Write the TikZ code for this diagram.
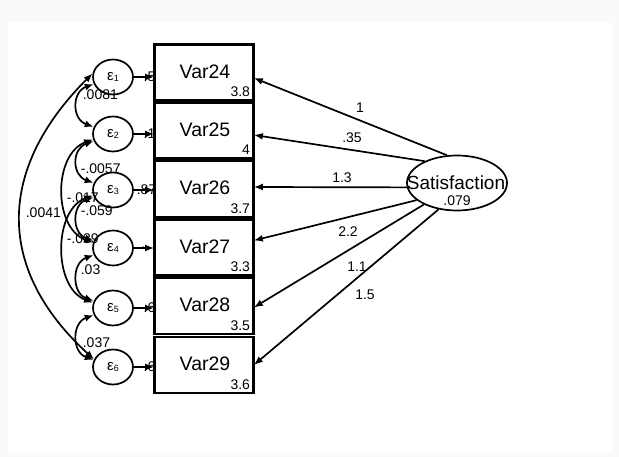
\documentclass[tikz,border=0pt]{standalone}
\usepackage{fontspec}
\setmainfont{Liberation Sans}
\usetikzlibrary{arrows.meta,shapes.geometric,calc}
\begin{document}
\begin{tikzpicture}[x=1pt,y=-1pt,line width=1.7pt,
  obs/.style={draw,rectangle,minimum width=98pt,minimum height=55pt,inner sep=0pt},
  err/.style={draw,ellipse,minimum width=40pt,minimum height=35pt,inner sep=0pt},
  lat/.style={draw,ellipse,minimum width=100pt,minimum height=55pt,inner sep=0pt},
  tip/.tip={Latex[length=9pt,width=7pt]},
  arr/.style={-tip},
  cov/.style={tip-tip},
  vname/.style={font=\fontsize{19.5}{20}\selectfont,inner sep=0pt},
  num/.style={font=\fontsize{14}{14}\selectfont,inner sep=0pt},
  errtxt/.style={inner sep=0pt}
]
\useasboundingbox (0,0) rectangle (619,457);
\fill[gray!4] (0,0) rectangle (619,457);
\fill[white] (8,22) rectangle (612,452);

% latent
\node[lat] (sat) at (457,183) {};

% observed boxes
\node[obs] (v24) at (204,72.5) {};
\node[obs] (v25) at (204,130.5) {};
\node[obs] (v26) at (204,189) {};
\node[obs] (v27) at (204,247.5) {};
\node[obs] (v28) at (204,306) {};
\node[obs] (v29) at (204,365) {};

% errors
\node[err] (e1) at (113,77) {};
\node[err] (e2) at (113,134) {};
\node[err] (e3) at (113,190) {};
\node[err] (e4) at (113,248) {};
\node[err] (e5) at (113,308) {};
\node[err] (e6) at (113,367) {};

\foreach \i in {1,...,6}{
  \node[errtxt] (et\i) at (e\i) {\fontsize{15}{15}\selectfont ε\raisebox{-1.5pt}{\fontsize{9}{9}\selectfont\i}};
}

% partially hidden error labels
\node[num,anchor=east] (m1) at ($(v24.west|-e1)+(2,0)$) {.5};
\node[num,anchor=east] (m2) at ($(v25.west|-e2)+(2,0)$) {.1};
\node[num,anchor=east] (m3) at ($(v26.west|-e3)+(3,0)$) {.87};
\node[num,anchor=east] (m4) at ($(v27.west|-e4)+(-8,0)$) {.};
\node[num,anchor=east] (m5) at ($(v28.west|-e5)+(2,0)$) {.6};
\node[num,anchor=east] (m6) at ($(v29.west|-e6)+(2,0)$) {.6};

% measurement arrows
\draw[arr] (e1.east) -- (e1.east -| v24.west);
\draw[arr] (e2.east) -- (e2.east -| v25.west);
\draw[arr] (e3.east) -- (e3.east -| v26.west);
\draw[arr] (e4.east) -- (e4.east -| v27.west);
\draw[arr] (e5.east) -- (e5.east -| v28.west);
\draw[arr] (e6.east) -- (e6.east -| v29.west);

% redraw boxes on top
\foreach \v in {v24,v25,v26,v27,v28,v29}{\draw (\v.north west) rectangle (\v.south east);}

% box texts
\node[vname] (n24) at ($(v24)+(1,-1)$) {Var24};
\node[vname] (n25) at ($(v25)+(1,-1)$) {Var25};
\node[vname] (n26) at ($(v26)+(1,-1)$) {Var26};
\node[vname] (n27) at ($(v27)+(1,-1)$) {Var27};
\node[vname] (n28) at ($(v28)+(1,-1)$) {Var28};
\node[vname] (n29) at ($(v29)+(1,-1)$) {Var29};
\node[num,anchor=south east] (c24) at ($(v24.south east)+(-3,-3)$) {3.8};
\node[num,anchor=south east] (c25) at ($(v25.south east)+(-3,-3)$) {4};
\node[num,anchor=south east] (c26) at ($(v26.south east)+(-3,-3)$) {3.7};
\node[num,anchor=south east] (c27) at ($(v27.south east)+(-3,-3)$) {3.3};
\node[num,anchor=south east] (c28) at ($(v28.south east)+(-3,-3)$) {3.5};
\node[num,anchor=south east] (c29) at ($(v29.south east)+(-3,-3)$) {3.6};

% loadings
\coordinate (t24) at ($(v24.east)+(0,5.5)$);
\coordinate (t25) at ($(v25.east)+(0,4.5)$);
\coordinate (t26) at ($(v26.east)+(0,-2)$);
\coordinate (t27) at ($(v27.east)+(0,-7)$);
\coordinate (t28) at ($(v28.east)+(0,1.5)$);
\coordinate (t29) at ($(v29.east)+(0,0)$);
\draw[arr] (sat.110) -- (t24);
\draw[arr] (sat.146) -- (t25);
\draw[arr] (sat.185) -- (t26);
\draw[arr] (sat.203) -- (t27);
\draw[arr] (sat.213) -- (t28);
\draw[arr] (sat.235) -- (t29);
\node[num] (l24) at (360,108) {1};
\node[num] (l25) at (352,138) {.35};
\node[num] (l26) at (342,178) {1.3};
\node[num] (l27) at (348,232) {2.2};
\node[num] (l28) at (357,267) {1.1};
\node[num] (l29) at (365,295) {1.5};

\node[inner sep=0pt,font=\fontsize{19}{19}\selectfont] (satt) at (456,183) {Satisfaction};
\node[num] (satv) at (457,201) {.079};

% covariance labels (drawn first, under arcs)
\node[num,anchor=west] (k12) at (82,95) {.0081};
\node[num,anchor=west] (k23) at (80,169) {-.0057};
\node[num,anchor=west] (k24) at (66,198) {-.017};
\node[num,anchor=west] (k34) at (80,211) {-.059};
\node[num,anchor=west] (k16) at (25,213) {.0041};
\node[num,anchor=west] (k35) at (66,239) {-.039};
\node[num,anchor=west] (k45) at (80,270) {.03};
\node[num,anchor=west] (k56) at (82,343) {.037};

% covariances
\draw[cov] (e1.200) .. controls ($(e1.200)+(-22,8)$) and ($(e2.160)+(-22,-8)$) .. (e2.160);
\draw[cov] (e2.200) .. controls ($(e2.200)+(-22,8)$) and ($(e3.160)+(-22,-8)$) .. (e3.160);
\draw[cov] (e3.200) .. controls ($(e3.200)+(-22,8)$) and ($(e4.160)+(-22,-8)$) .. (e4.160);
\draw[cov] (e4.200) .. controls ($(e4.200)+(-22,8)$) and ($(e5.160)+(-22,-8)$) .. (e5.160);
\draw[cov] (e5.200) .. controls ($(e5.200)+(-22,8)$) and ($(e6.160)+(-22,-8)$) .. (e6.160);
\draw[cov] (e2.195) .. controls ($(e2.195)+(-40,15)$) and ($(e4.165)+(-40,-15)$) .. (e4.165);
\draw[cov] (e3.195) .. controls ($(e3.195)+(-40,15)$) and ($(e5.165)+(-40,-15)$) .. (e5.165);
\draw[cov] (e1.170) .. controls (-4,170) and (-4,270) .. (e6.158);
\end{tikzpicture}
\end{document}
